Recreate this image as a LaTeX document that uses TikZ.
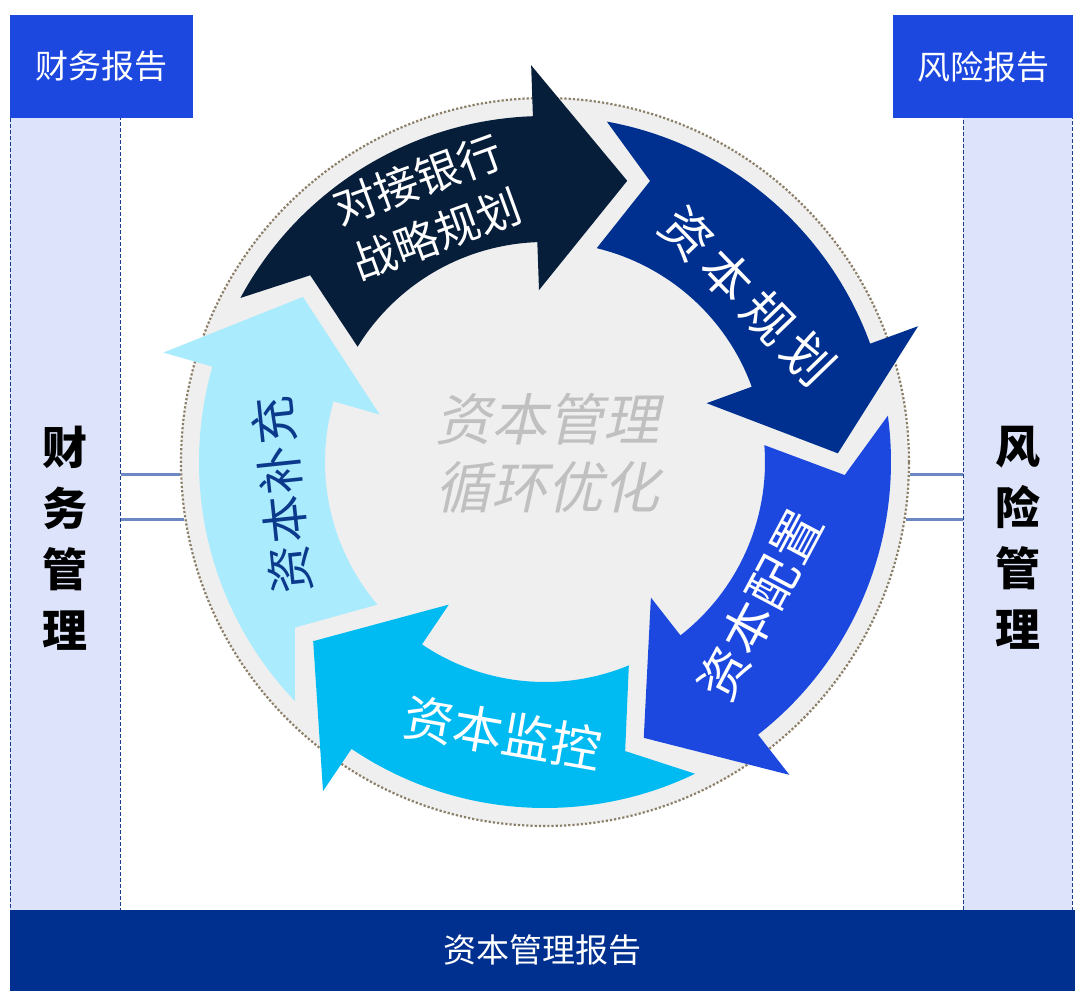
\documentclass[tikz,border=0pt]{standalone}
\usepackage{fontspec}
\setmainfont{Noto Sans CJK SC}
\newfontfamily\cjkslant[FakeSlant=0.22]{Noto Sans CJK SC}
\definecolor{navyA}{HTML}{071E3A}
\definecolor{blueB}{HTML}{00308F}
\definecolor{blueC}{HTML}{1C48E0}
\definecolor{cyanD}{HTML}{00BBF2}
\definecolor{cyanE}{HTML}{AAEBFD}
\definecolor{panelbg}{HTML}{DDE3FA}
\definecolor{dashblue}{HTML}{1A3C8C}
\definecolor{linkblue}{HTML}{6B88C2}
\definecolor{discgray}{HTML}{EFEFEF}
\definecolor{dotbrown}{HTML}{8C7F68}
\definecolor{centertext}{HTML}{C0C0C0}
\definecolor{textblue}{HTML}{0B3A8C}
\newcommand\cyclearrow[2]{%
  \fill[#1] ({151.7+#2}:346) arc[start angle={151.7+#2}, end angle={92+#2}, radius=346]
    -- ({92+#2}:397) -- ({73.7+#2}:293) -- ({92+#2}:172) -- ({92+#2}:220)
    arc[start angle={92+#2}, end angle={148.4+#2}, radius=220]
    -- ({141.5+#2}:300) -- cycle;}
\begin{document}
\begin{tikzpicture}[x=1pt,y=1pt,
  topbox/.style={fill=blueC, text=white, inner sep=0pt, font=\fontsize{33}{38}\selectfont},
  sidepanel/.style={fill=panelbg, draw=dashblue, line width=1pt, dash pattern=on 4pt off 2pt, inner sep=0pt},
  sidetext/.style={align=center, inner sep=0pt, text=black, font=\fontsize{45}{61}\selectfont\bfseries},
  link/.style={draw=linkblue, line width=2.8pt},
  ringdisc/.style={circle, fill=discgray, draw=dotbrown, line width=2.2pt, dash pattern=on 2.2pt off 2pt, inner sep=0pt, minimum size=728pt},
  arrowlabel/.style={text=white, inner sep=0pt, font=\fontsize{50}{58}\selectfont},
  bottombar/.style={fill=blueB, text=white, inner sep=0pt, font=\fontsize{33}{38}\selectfont}]
\useasboundingbox (0,0) rectangle (1080,-999);
% side panels
\node[sidepanel, minimum width=110pt, minimum height=793pt] (lpanel) at (65,-513.5) {};
\node[sidepanel, minimum width=109pt, minimum height=793pt] (rpanel) at (1017.5,-513.5) {};
\node[sidetext] (ltext) at (65,-538) {财\\务\\管\\理};
\node[sidetext] (rtext) at (1018,-538) {风\\险\\管\\理};
% central disc
\node[ringdisc] (ring) at (545,-462) {};
% connectors
\draw[link] (ring.182.4) -- (ring.182.4 -| lpanel.east);
\draw[link] (ring.189.8) -- (ring.189.8 -| lpanel.east);
\draw[link] (ring.-2.4) -- (ring.-2.4 -| rpanel.west);
\draw[link] (ring.-9.8) -- (ring.-9.8 -| rpanel.west);
% cycle arrows
\begin{scope}[shift={(ring.center)}]
  \cyclearrow{navyA}{0}
  \cyclearrow{blueB}{-72}
  \cyclearrow{blueC}{-144}
  \cyclearrow{cyanD}{-216}
  \cyclearrow{cyanE}{-288}
\end{scope}
% labels
\node[text=centertext, align=center, inner sep=0pt, font=\cjkslant\fontsize{56}{68}\selectfont] (ctext) at (547,-453) {资本管理\\循环优化};
\node[arrowlabel, align=center, rotate=20, font=\fontsize{44}{58}\selectfont] (lab1) at (427,-207) {对接银行\\战略规划};
\node[arrowlabel, rotate=-46] (lab2) at (748,-296) {资\kern8pt本\kern8pt规\kern8pt划};
\node[arrowlabel, rotate=62] (lab3) at (760,-605) {资\kern2pt本\kern2pt配\kern2pt置};
\node[arrowlabel, rotate=-10] (lab4) at (503,-733) {资本监控};
\node[arrowlabel, text=textblue, rotate=96, font=\fontsize{48}{56}\selectfont] (lab5) at (282,-495) {资\kern2pt本\kern2pt补\kern2pt充};
% top boxes
\node[topbox, minimum width=183pt, minimum height=103pt] (fr) at (101.5,-66.5) {财务报告};
\node[topbox, minimum width=180pt, minimum height=103pt] (rr) at (983,-66.5) {风险报告};
% bottom bar
\node[bottombar, minimum width=1065pt, minimum height=81pt] (cr) at (542.5,-950.5) {资本管理报告};
\end{tikzpicture}
\end{document}
